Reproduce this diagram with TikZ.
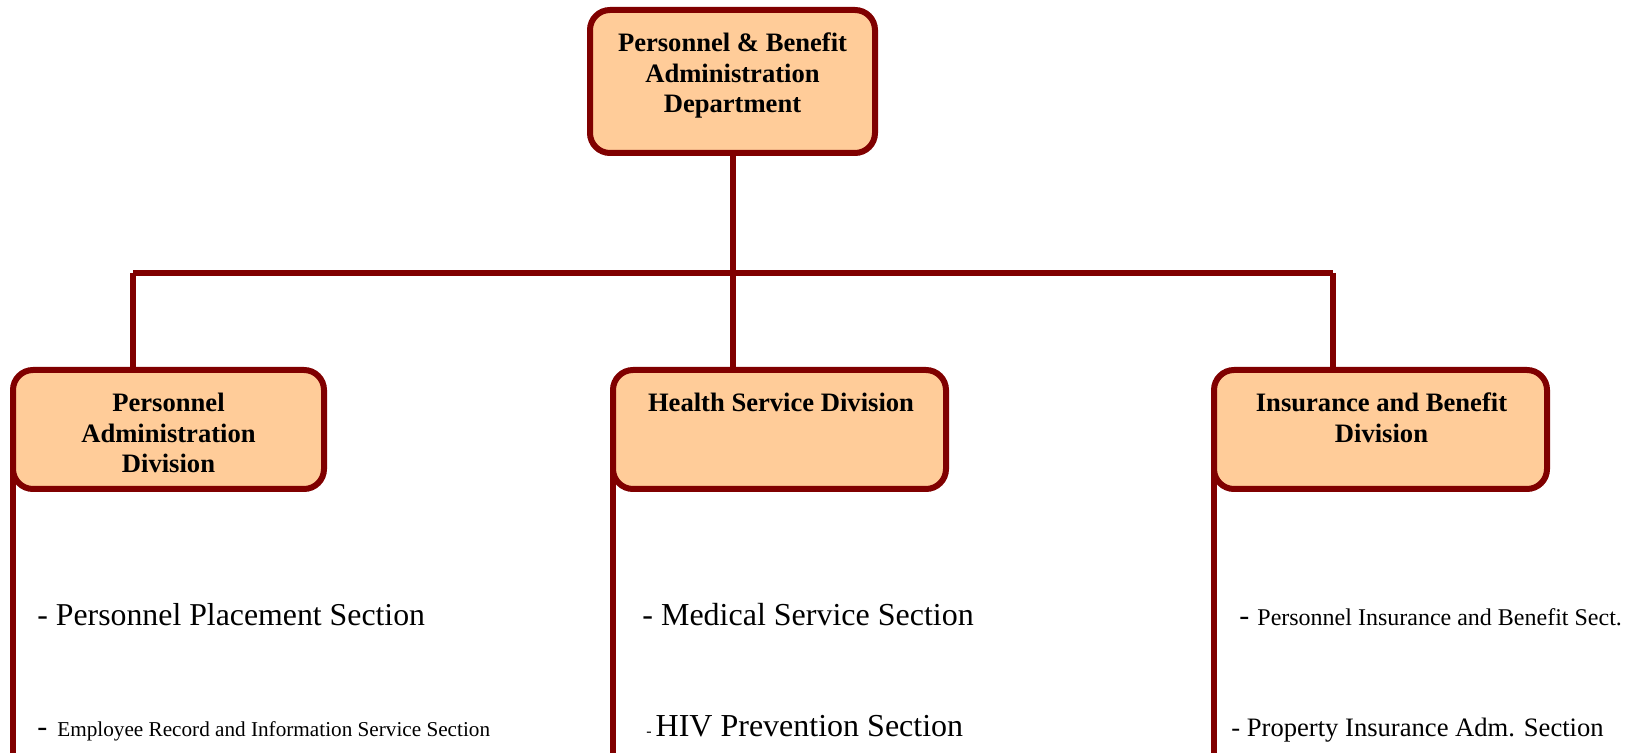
\documentclass[tikz,border=0pt]{standalone}
\usepackage{fontspec}
\setmainfont{Liberation Serif}
\usetikzlibrary{backgrounds}
\definecolor{dred}{RGB}{128,0,0}
\definecolor{peach}{RGB}{255,204,153}
\tikzset{
  orgbox/.style={draw=dred, fill=peach, line width=3pt, rounded corners=10pt, inner sep=0pt, outer sep=0pt},
  boxtext/.style={anchor=base, align=center, inner sep=0pt, font=\fontsize{13.3}{15.3}\selectfont\bfseries},
  secttext/.style={anchor=base west, inner sep=0pt},
  link/.style={draw=dred, line width=3pt}
}
\begin{document}
\begin{tikzpicture}[x=0.5pt,y=-0.5pt]
\useasboundingbox (0,0) rectangle (1644,753);
\coordinate (base) at (0,753);
% boxes
\node[orgbox, minimum width=142.5pt, minimum height=71.5pt] (dept) at (732.5,81.5) {};
\node[orgbox, minimum width=155.5pt, minimum height=59.5pt] (pad) at (168.5,429.5) {};
\node[orgbox, minimum width=166.5pt, minimum height=59.5pt] (hsd) at (779.5,429.5) {};
\node[orgbox, minimum width=166.5pt, minimum height=59.5pt] (ibd) at (1380.5,429.5) {};
% box texts (anchored at the baseline of their last line)
\node[boxtext] (deptT) at (732.5,113) {Personnel \& Benefit\\Administration\\Department};
\node[boxtext] (padT) at (168.5,473) {Personnel\\Administration\\Division};
\node[boxtext] (hsdT) at (781,412) {Health Service Division};
\node[boxtext] (ibdT) at (1381.5,442.5) {Insurance and Benefit\\Division};
% connectors
\coordinate (jl) at (133,273);
\coordinate (jr) at (1333,273);
\begin{scope}[on background layer]
\draw[link] (dept.south) -- (dept.south |- hsd.north);
\draw[link] (jl) -- (jr);
\draw[link] (jl) -- (jl |- pad.north);
\draw[link] (jr) -- (jr |- ibd.north);
\draw[link] (pad.west) -- (pad.west |- base);
\draw[link] (hsd.west) -- (hsd.west |- base);
\draw[link] (ibd.west) -- (ibd.west |- base);
\end{scope}
% section texts
\node[secttext, font=\fontsize{15.9}{18}\selectfont] (s1) at (37,625) {- Personnel Placement Section};
\node[secttext] (s2) at (37,736) {{\fontsize{15}{18}\selectfont -}\hspace{5pt}{\fontsize{10.6}{13}\selectfont Employee Record and Information Service Section}};
\node[secttext, font=\fontsize{16}{19}\selectfont] (s3) at (642,625) {- Medical Service Section};
\node[secttext] (s4) at (646,736) {{\fontsize{8}{9}\selectfont -}\hspace{2pt}{\fontsize{16}{19}\selectfont HIV Prevention Section}};
\node[secttext] (s5) at (1239,625) {{\fontsize{15}{18}\selectfont -}\hspace{4pt}{\fontsize{12}{14}\selectfont Personnel Insurance and Benefit Sect.}};
\node[secttext, font=\fontsize{13.3}{16}\selectfont] (s6) at (1231,736) {- Property Insurance Adm. Section};
\end{tikzpicture}
\end{document}
